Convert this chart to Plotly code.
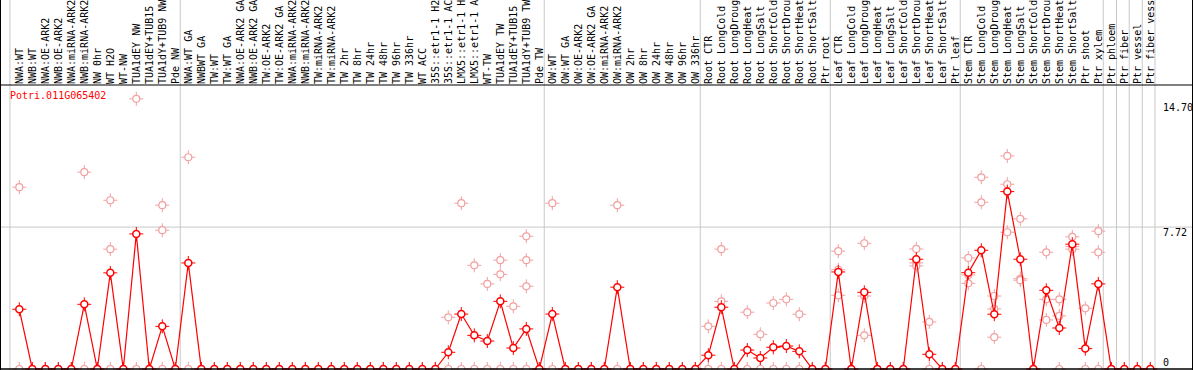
import plotly.graph_objects as go

labels = [
    "NWA:WT", "NWB:WT", "NWA:OE-ARK2", "NWB:OE-ARK2", "NWA:miRNA-ARK2", "NWB:miRNA-ARK2",
    "NW 0hr", "WT H2O", "WT-NW", "TUA1dEY NW", "TUA1dEY+TUB15 NW", "TUA1dY+TUB9 NW", "Pde NW",
    "NWA:WT GA", "NWBWT GA", "TW:WT", "TW:WT GA", "NWA:OE-ARK2 GA", "NWB:OE-ARK2 GA",
    "TW:OE-ARK2", "TW:OE-ARK2 GA", "NWA:miRNA-ARK2", "NWB:miRNA-ARK2", "TW:miRNA-ARK2",
    "TW:miRNA-ARK2", "TW 2hr", "TW 8hr", "TW 24hr", "TW 48hr", "TW 96hr", "TW 336hr",
    "WT ACC", "35S::etr1-1 H2O", "35S::etr1-1 ACC", "LMX5::etr1-1 H2O", "LMX5::etr1-1 ACC",
    "WT-TW", "TUA1dEY TW", "TUA1dEY+TUB15 TW", "TUA1dY+TUB9 TW", "Pde TW",
    "OW:WT", "OW:WT GA", "OW:OE-ARK2", "OW:OE-ARK2 GA", "OW:miRNA-ARK2", "OW:miRNA-ARK2",
    "OW 2hr", "OW 8hr", "OW 24hr", "OW 48hr", "OW 96hr", "OW 336hr",
    "Root CTR", "Root LongCold", "Root LongDrought", "Root LongHeat", "Root LongSalt",
    "Root ShortCold", "Root ShortDrought", "Root ShortHeat", "Root ShortSalt", "Ptr root",
    "Leaf CTR", "Leaf LongCold", "Leaf LongDrought", "Leaf LongHeat", "Leaf LongSalt",
    "Leaf ShortCold", "Leaf ShortDrought", "Leaf ShortHeat", "Leaf ShortSalt", "Ptr leaf",
    "Stem CTR", "Stem LongCold", "Stem LongDrought", "Stem LongHeat", "Stem LongSalt",
    "Stem ShortCold", "Stem ShortDrought", "Stem ShortHeat", "Stem ShortSalt", "Ptr shoot",
    "Ptr xylem", "Ptr phloem", "Ptr fiber", "Ptr vessel", "Ptr fiber vessel",
]

mean_values = [
    3.25, 0, 0, 0, 0, 3.52, 0, 5.23, 0, 7.35, 0, 2.32, 0,
    5.77, 0, 0, 0, 0, 0, 0, 0, 0, 0, 0, 0, 0, 0, 0, 0, 0, 0, 0, 0,
    0.91, 2.99, 1.83, 1.52, 3.68, 1.14, 2.18, 0,
    2.99, 0, 0, 0, 0, 4.45, 0, 0, 0, 0, 0, 0,
    0.75, 3.36, 0, 1.03, 0.60, 1.18, 1.25, 0.96, 0, 0,
    5.28, 0, 4.17, 0, 0, 0, 5.97, 0.80, 0, 0,
    5.24, 6.46, 2.98, 9.65, 5.97, 0, 4.28, 2.23, 6.79, 1.11, 4.63,
    0, 0, 0, 0,
]

replicates = [
    [9.89, 0], [0], [0], [0], [0], [10.71, 0], [0], [9.18, 6.52, 0], [0], [14.70, 0], [0],
    [8.91, 7.55, 0], [0],
    [11.52, 0], [0], [0], [0], [0], [0], [0], [0], [0], [0], [0], [0], [0], [0], [0], [0],
    [0], [0], [0], [0],
    [2.81, 0], [9.02, 0], [5.64, 0], [4.63, 0], [5.92, 5.15, 0], [3.41, 0],
    [7.22, 5.92, 4.50, 0], [0],
    [9.02, 0], [0], [0], [0], [0], [8.91, 0], [0], [0], [0], [0], [0], [0],
    [2.32, 0], [6.52, 3.68, 0], [0], [3.09, 0], [1.89, 0], [3.59, 0], [3.79, 0], [2.98, 0],
    [0], [0],
    [6.41, 5.40, 4.01], [0], [6.84, 3.97, 1.83], [0], [0], [0], [6.53, 5.77, 5.61],
    [2.56, 0], [0], [0],
    [6.04, 5.12, 4.66], [10.43, 9.07, 0], [3.97, 3.27, 1.73], [11.59, 10.05, 7.44],
    [8.17, 4.91, 4.83], [0], [6.35, 3.79, 2.67], [3.79, 2.89, 0], [7.19, 6.66, 6.52],
    [3.30, 0], [7.50, 6.35, 0],
    [0], [0], [0], [0],
]

gene_name = "Potri.011G065402"
y_tick_values = [0, 7.72, 14.70]
y_tick_text = ["0", "7.72", "14.70"]
group_edges = [-0.72, 12.38, 40.38, 52.38, 62.38, 72.38, 83.38, 84.4, 85.38, 86.38, 87.36]

RED = "#ff0000"
PINK = "#f2a0a0"
GRID = "#c8c8c8"
FONT = "DejaVu Sans Mono"

W, H = 1194, 370
MT, MB = 85, 1
X0 = -19.3 / 13
X1 = X0 + W / 13
Y0, Y1 = 0, 15.45

def idx_paper(v):
    return (v - X0) / (X1 - X0)

def py_paper(py):
    return (H - MB - py) / (H - MT - MB)

xs = list(range(len(labels)))
rep_x, rep_y = [], []
for i, reps in enumerate(replicates):
    for r in reps:
        rep_x.append(i)
        rep_y.append(r)

fig = go.Figure()
fig.add_trace(go.Scatter(x=rep_x, y=rep_y, mode="markers", cliponaxis=False,
                         marker=dict(symbol="cross-thin-open", size=10, color=PINK,
                                     line=dict(color=PINK, width=1)),
                         hoverinfo="skip"))
fig.add_trace(go.Scatter(x=rep_x, y=rep_y, mode="markers", cliponaxis=False,
                         marker=dict(symbol="circle", size=7, color="white", line=dict(color=PINK, width=1.2))))
fig.add_trace(go.Scatter(x=xs, y=mean_values, mode="lines", cliponaxis=False,
                         line=dict(color=RED, width=1.2), hoverinfo="skip"))
fig.add_trace(go.Scatter(x=xs, y=mean_values, mode="markers", cliponaxis=False,
                         marker=dict(symbol="cross-thin-open", size=10, color=RED,
                                     line=dict(color=RED, width=1)),
                         hoverinfo="skip"))
fig.add_trace(go.Scatter(x=xs, y=mean_values, mode="markers", cliponaxis=False,
                         marker=dict(symbol="circle", size=7, color="white", line=dict(color=RED, width=1.5))))

shapes = []
for e in group_edges:
    xp = idx_paper(e)
    shapes.append(dict(type="line", xref="paper", yref="paper", x0=xp, x1=xp,
                       y0=py_paper(372), y1=py_paper(-2), line=dict(color=GRID, width=1), layer="below"))
shapes.append(dict(type="line", xref="paper", yref="y", x0=0, x1=1192 / W, y0=7.72, y1=7.72,
                   line=dict(color=GRID, width=1), layer="below"))
# frame
for xp in (0.5 / W, 1192.5 / W):
    shapes.append(dict(type="line", xref="paper", yref="paper", x0=xp, x1=xp,
                       y0=py_paper(372), y1=py_paper(-2), line=dict(color="black", width=1), layer="above"))
shapes.append(dict(type="line", xref="paper", yref="paper", x0=0, x1=1193 / W, y0=1, y1=1,
                   line=dict(color="black", width=1.2), layer="above"))
shapes.append(dict(type="line", xref="paper", yref="paper", x0=0, x1=1193 / W, y0=0, y1=0,
                   line=dict(color="black", width=1.5), layer="above"))

annotations = [dict(text=gene_name, xref="paper", yref="paper", x=9 / W, y=py_paper(89),
                    xanchor="left", yanchor="top", showarrow=False, borderpad=0,
                    font=dict(family=FONT, size=10, color=RED))]
shifts = {0: 0, 7.72: 1, 14.70: -2}
for v, t in zip(y_tick_values, y_tick_text):
    annotations.append(dict(text=t, xref="paper", yref="y", x=1162 / W, y=v,
                            xanchor="left", yanchor="bottom" if v == 0 else "top",
                            yshift=shifts[v], showarrow=False, borderpad=0,
                            font=dict(family=FONT, size=10, color="black")))

fig.update_layout(
    width=W, height=H, margin=dict(l=0, r=0, t=MT, b=MB, pad=0, autoexpand=False),
    paper_bgcolor="white", plot_bgcolor="rgba(0,0,0,0)",
    showlegend=False, shapes=shapes, annotations=annotations,
    xaxis=dict(range=[X0, X1], side="top", tickmode="array", tickvals=xs, ticktext=labels,
               tickangle=-90, tickfont=dict(family=FONT, size=10, color="black"),
               showgrid=False, zeroline=False, showline=False, ticks="", fixedrange=True,
               automargin=False),
    yaxis=dict(range=[Y0, Y1], showgrid=False, zeroline=False, showline=False,
               showticklabels=False, ticks="", fixedrange=True, automargin=False),
)
fig.write_html("out.html", config={"displayModeBar": False},
               post_script="document.body.style.margin='0px';document.body.style.overflow='hidden';")
